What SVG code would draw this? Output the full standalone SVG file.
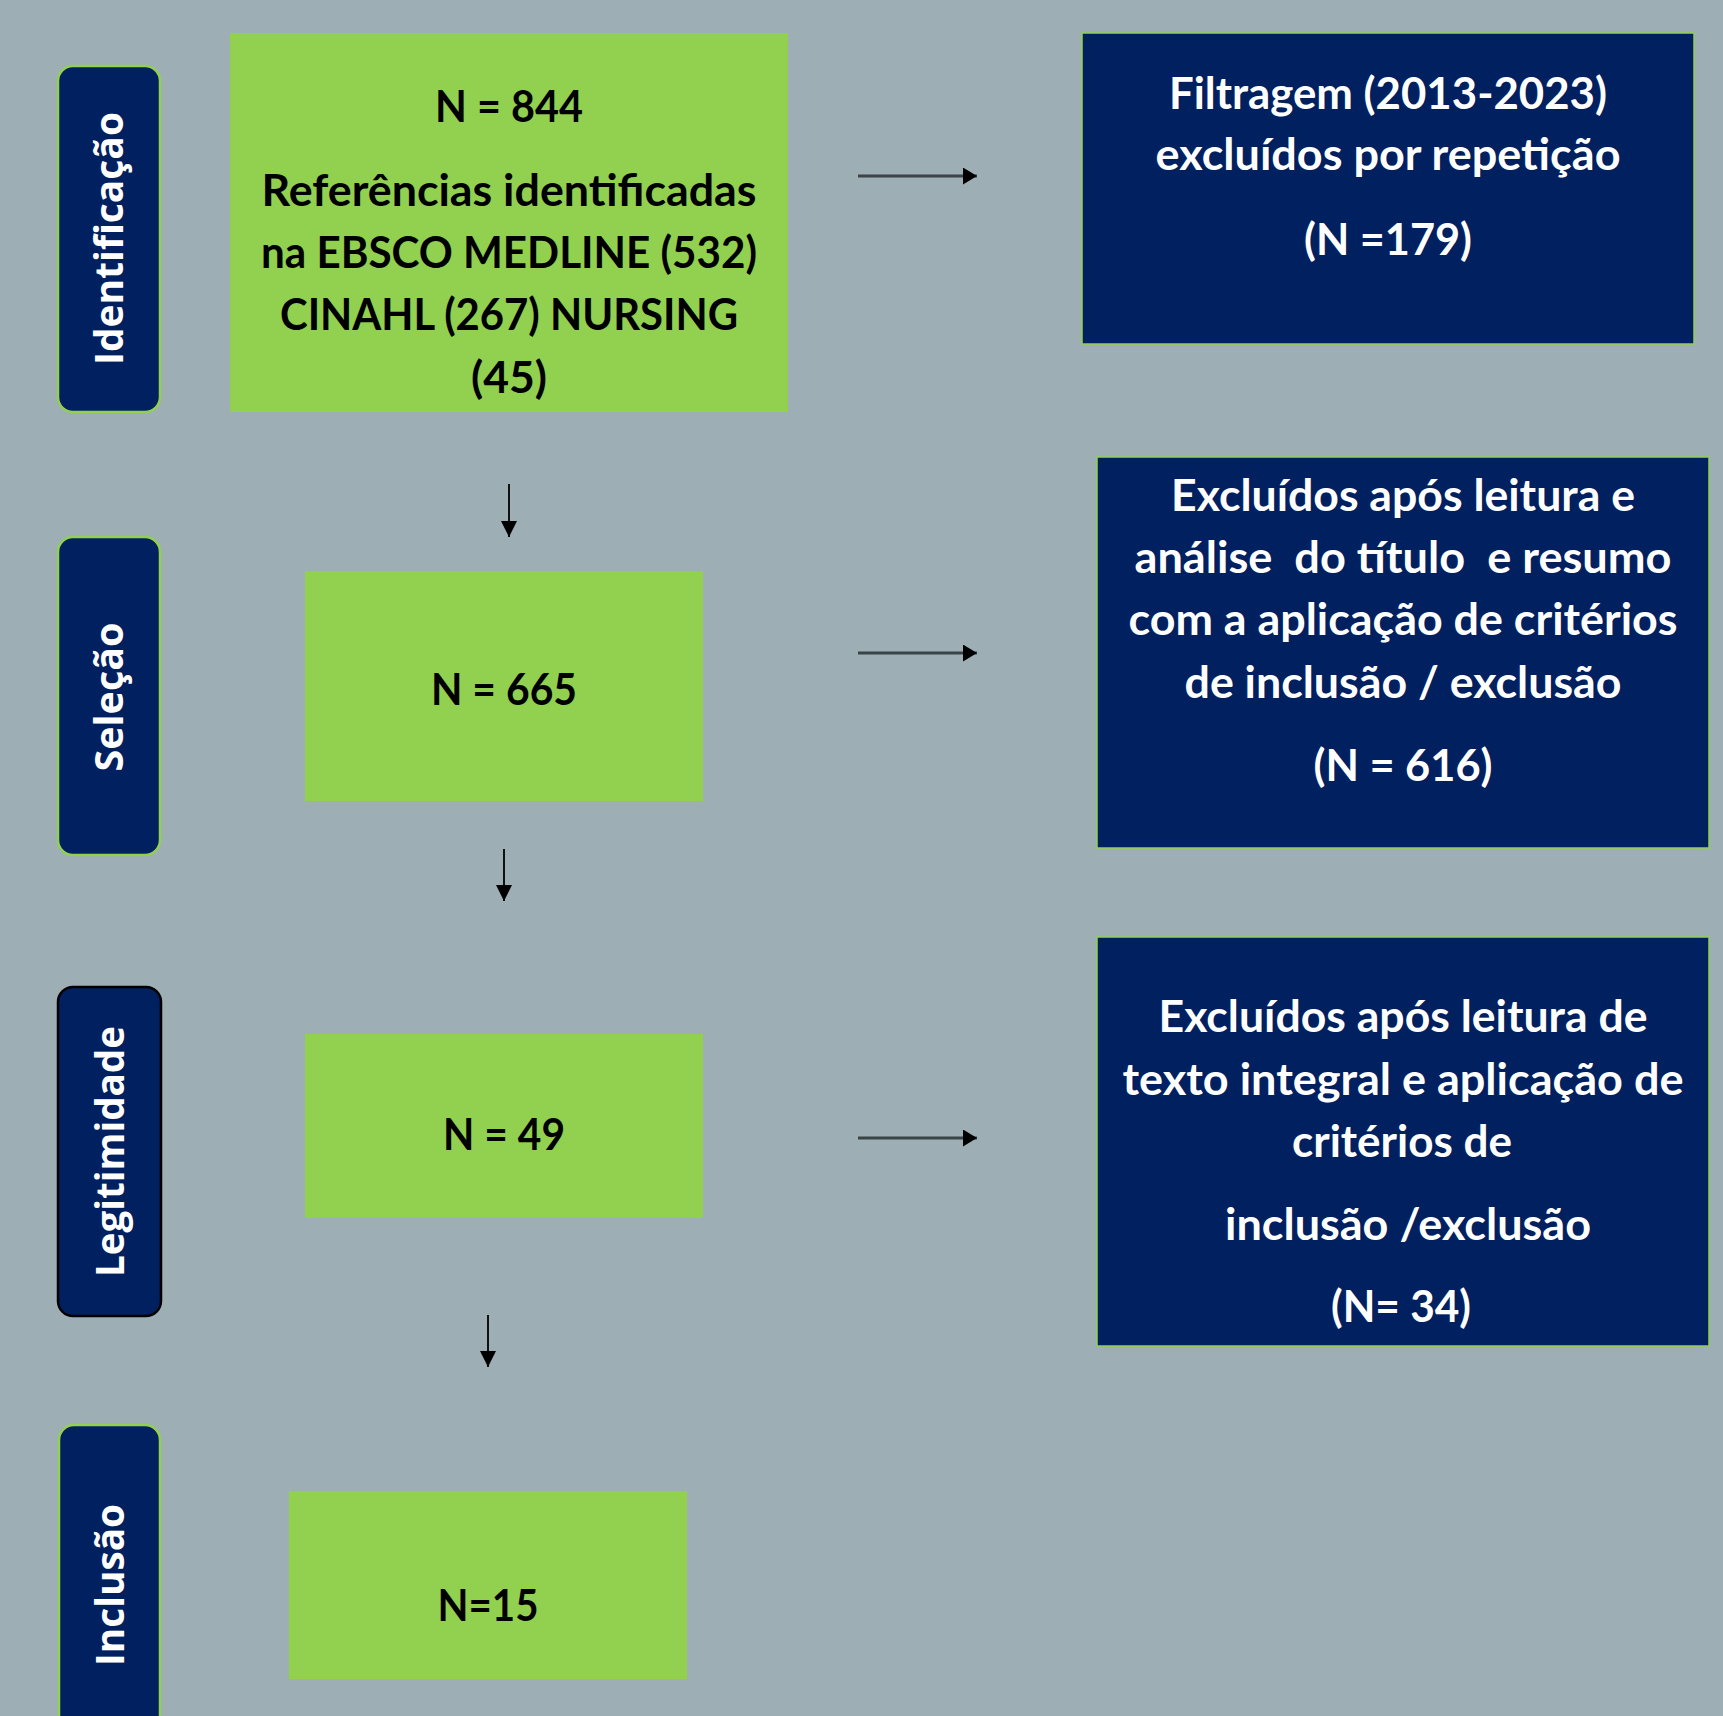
<svg xmlns="http://www.w3.org/2000/svg" width="1723" height="1716" viewBox="0 0 1723 1716">
<style>
.bg{fill:#9DAFB4}
.green{fill:#92D050}
.navy{fill:#002060;stroke:#92D050;stroke-width:1.5}
.lab{fill:#002060;stroke:#92D050;stroke-width:2.5}
.labk{fill:#002060;stroke:#000;stroke-width:2.5}
.lt{font-family:"Open Sans","DejaVu Sans",sans-serif;font-weight:700;font-size:39px;fill:#fff;text-anchor:middle}
.bt{font-family:Lato,"Liberation Sans",sans-serif;font-weight:700;font-size:44px;fill:#000;text-anchor:middle}
.wt{font-family:Lato,"Liberation Sans",sans-serif;font-weight:700;font-size:44px;fill:#fff;text-anchor:middle}
.hline{stroke:#3a4446;stroke-width:3;fill:none}
.vline{stroke:#000;stroke-width:1.8;fill:none}
</style>
<defs>
<marker id="ahR" viewBox="0 0 14 17" refX="14" refY="8.5" markerWidth="14" markerHeight="17" markerUnits="userSpaceOnUse" orient="auto">
<path d="M0,0 L14,8.5 L0,17 z" fill="#000"/>
</marker>
<marker id="ahD" viewBox="0 0 16 16" refX="16" refY="8" markerWidth="16" markerHeight="16" markerUnits="userSpaceOnUse" orient="auto">
<path d="M0,0 L16,8 L0,16 z" fill="#000"/>
</marker>
</defs>
<rect class="bg" x="0" y="0" width="1723" height="1716"/>

<g id="label-identificacao">
<rect class="lab" x="58" y="66" width="102" height="346" rx="15"/>
<text class="lt" transform="translate(123,238.5) rotate(-90)" x="0" y="0" textLength="253" lengthAdjust="spacingAndGlyphs">Identificação</text>
</g>
<g id="label-selecao">
<rect class="lab" x="58" y="537" width="102" height="318" rx="15"/>
<text class="lt" transform="translate(123,697) rotate(-90)" x="0" y="0" textLength="149" lengthAdjust="spacingAndGlyphs">Seleção</text>
</g>
<g id="label-legitimidade">
<rect class="labk" x="58" y="987" width="103" height="329" rx="15"/>
<text class="lt" transform="translate(124,1151.5) rotate(-90)" x="0" y="0" textLength="251" lengthAdjust="spacingAndGlyphs">Legitimidade</text>
</g>
<g id="label-inclusao">
<rect class="lab" x="59" y="1425" width="101" height="340" rx="15"/>
<text class="lt" transform="translate(124,1585) rotate(-90)" x="0" y="0" textLength="162" lengthAdjust="spacingAndGlyphs">Inclusão</text>
</g>

<g id="node-844">
<rect class="green" x="230" y="33" width="558" height="379"/>
<text class="bt" x="509" y="122" textLength="148" lengthAdjust="spacingAndGlyphs">N = 844</text>
<text class="bt" x="509" y="206" textLength="495" lengthAdjust="spacingAndGlyphs">Referências identificadas</text>
<text class="bt" x="509" y="268" textLength="496" lengthAdjust="spacingAndGlyphs">na EBSCO MEDLINE (532)</text>
<text class="bt" x="509" y="330" textLength="458" lengthAdjust="spacingAndGlyphs">CINAHL (267) NURSING</text>
<text class="bt" x="509" y="393" textLength="76" lengthAdjust="spacingAndGlyphs">(45)</text>
</g>
<g id="node-665">
<rect class="green" x="305" y="571" width="398" height="230"/>
<text class="bt" x="504" y="705" textLength="146" lengthAdjust="spacingAndGlyphs">N = 665</text>
</g>
<g id="node-49">
<rect class="green" x="305" y="1034" width="398" height="184"/>
<text class="bt" x="504" y="1150" textLength="122" lengthAdjust="spacingAndGlyphs">N = 49</text>
</g>
<g id="node-15">
<rect class="green" x="289" y="1491" width="398" height="188"/>
<text class="bt" x="488" y="1621" textLength="101" lengthAdjust="spacingAndGlyphs">N=15</text>
</g>

<g id="node-excl-179">
<rect class="navy" x="1082" y="33" width="612" height="311"/>
<text class="wt" x="1388" y="109" textLength="438" lengthAdjust="spacingAndGlyphs">Filtragem (2013-2023)</text>
<text class="wt" x="1388" y="170" textLength="465" lengthAdjust="spacingAndGlyphs">excluídos por repetição</text>
<text class="wt" x="1388" y="255" textLength="168" lengthAdjust="spacingAndGlyphs">(N =179)</text>
</g>
<g id="node-excl-616">
<rect class="navy" x="1097" y="457" width="612" height="391"/>
<text class="wt" x="1403" y="511" textLength="464" lengthAdjust="spacingAndGlyphs">Excluídos após leitura e</text>
<text class="wt" x="1403" y="573" textLength="537" lengthAdjust="spacingAndGlyphs" style="white-space:pre">análise  do título  e resumo</text>
<text class="wt" x="1403" y="635" textLength="549" lengthAdjust="spacingAndGlyphs">com a aplicação de critérios</text>
<text class="wt" x="1403" y="698" textLength="437" lengthAdjust="spacingAndGlyphs">de inclusão / exclusão</text>
<text class="wt" x="1403" y="781" textLength="179" lengthAdjust="spacingAndGlyphs">(N = 616)</text>
</g>
<g id="node-excl-34">
<rect class="navy" x="1097" y="937" width="612" height="409"/>
<text class="wt" x="1403" y="1032" textLength="489" lengthAdjust="spacingAndGlyphs">Excluídos após leitura de</text>
<text class="wt" x="1403" y="1095" textLength="561" lengthAdjust="spacingAndGlyphs">texto integral e aplicação de</text>
<text class="wt" x="1402" y="1157" textLength="220" lengthAdjust="spacingAndGlyphs">critérios de</text>
<text class="wt" x="1408" y="1240" textLength="366" lengthAdjust="spacingAndGlyphs">inclusão /exclusão</text>
<text class="wt" x="1401" y="1322" textLength="140" lengthAdjust="spacingAndGlyphs">(N= 34)</text>
</g>

<g id="connectors">
<line class="hline" x1="858" y1="176" x2="977" y2="176" marker-end="url(#ahR)"/>
<line class="hline" x1="858" y1="653" x2="977" y2="653" marker-end="url(#ahR)"/>
<line class="hline" x1="858" y1="1138" x2="977" y2="1138" marker-end="url(#ahR)"/>
<line class="vline" x1="509" y1="484" x2="509" y2="537" marker-end="url(#ahD)"/>
<line class="vline" x1="504" y1="849" x2="504" y2="901" marker-end="url(#ahD)"/>
<line class="vline" x1="488" y1="1315" x2="488" y2="1367" marker-end="url(#ahD)"/>
</g>
</svg>
